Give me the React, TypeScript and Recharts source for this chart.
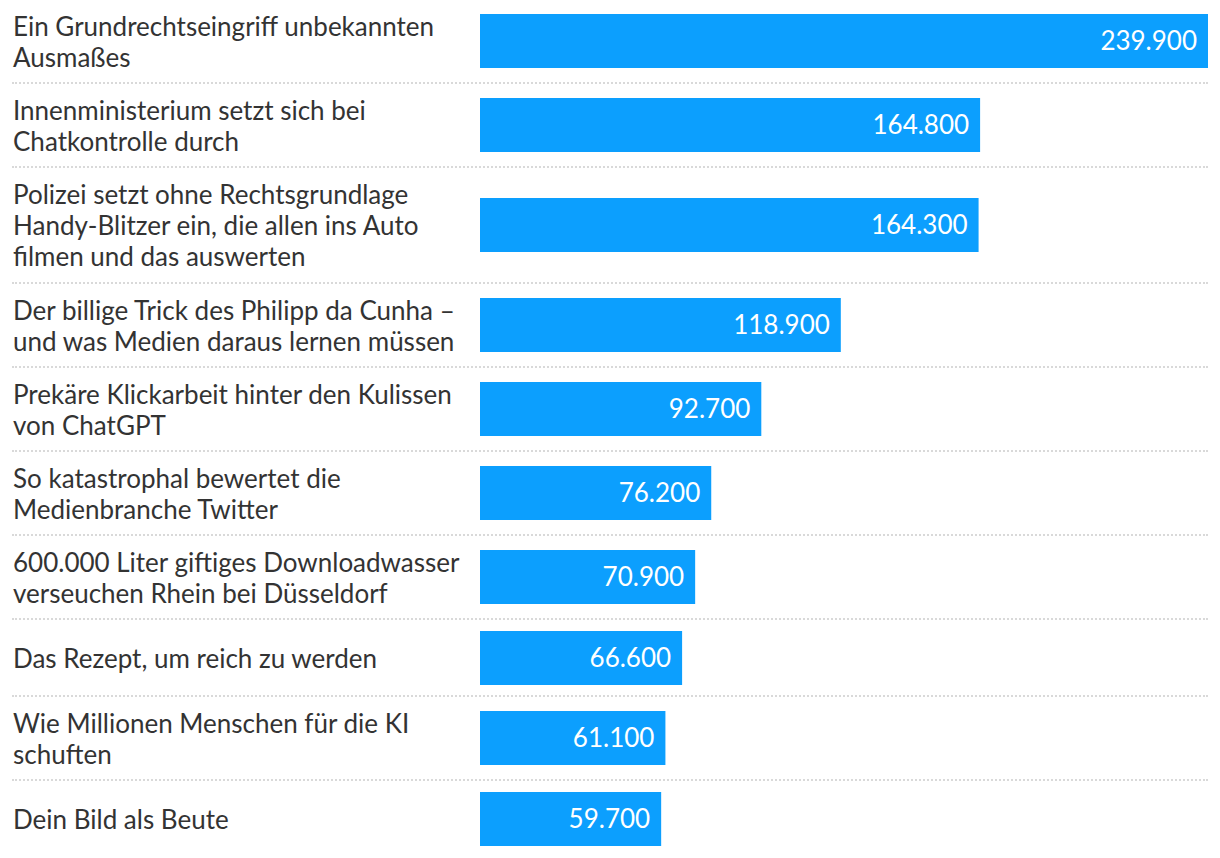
import { BarChart, Bar, XAxis, YAxis, LabelList } from 'recharts'

// article titles (line breaks as in the original layout)
const titles = [
  'Ein Grundrechtseingriff unbekannten\nAusmaßes',
  'Innenministerium setzt sich bei\nChatkontrolle durch',
  'Polizei setzt ohne Rechtsgrundlage\nHandy-Blitzer ein, die allen ins Auto\nfilmen und das auswerten',
  'Der billige Trick des Philipp da Cunha –\nund was Medien daraus lernen müssen',
  'Prekäre Klickarbeit hinter den Kulissen\nvon ChatGPT',
  'So katastrophal bewertet die\nMedienbranche Twitter',
  '600.000 Liter giftiges Downloadwasser\nverseuchen Rhein bei Düsseldorf',
  'Das Rezept, um reich zu werden',
  'Wie Millionen Menschen für die KI\nschuften',
  'Dein Bild als Beute',
]

const views = [239900, 164800, 164300, 118900, 92700, 76200, 70900, 66600, 61100, 59700]

const BAR_COLOR = '#0c9ffe'
const TEXT_COLOR = '#333333'
const FONT = 'Lato, sans-serif'
const FONT_SIZE = 26
const LINE_HEIGHT = 31
const AXIS_WIDTH = 468
const CHART_WIDTH = 1196
const maxValue = Math.max(...views)

const formatNumber = (v: number) =>
  String(v).replace(/\B(?=(\d{3})+(?!\d))/g, '.')

function TitleTick(props: any) {
  const { x, y, payload } = props
  const lines: string[] = String(payload.value).split('\n')
  const left = x - AXIS_WIDTH + 1
  const y0 = y - ((lines.length - 1) * LINE_HEIGHT) / 2
  return (
    <text
      x={left}
      y={y0}
      fill={TEXT_COLOR}
      fontSize={FONT_SIZE}
      fontFamily={FONT}
      textAnchor="start"
      dominantBaseline="central"
    >
      {lines.map((line, i) => (
        <tspan key={i} x={left} dy={i === 0 ? 0 : LINE_HEIGHT}>
          {line}
        </tspan>
      ))}
    </text>
  )
}

function rowHeight(title: string) {
  const n = title.split('\n').length
  if (n === 1) return 75
  if (n === 2) return 82
  return 114
}

function Row({ title, value, last }: { title: string; value: number; last: boolean }) {
  const h = rowHeight(title)
  const data = [{ title, value }]
  return (
    <div
      style={{
        marginLeft: 12,
        width: CHART_WIDTH,
        height: h,
        borderBottom: last ? 'none' : '2px dotted #d9d9d9',
      }}
    >
      <BarChart
        width={CHART_WIDTH}
        height={h}
        data={data}
        layout="vertical"
        margin={{ top: 0, right: 0, bottom: 0, left: 0 }}
      >
        <XAxis type="number" domain={[0, maxValue]} hide />
        <YAxis
          type="category"
          dataKey="title"
          width={AXIS_WIDTH}
          axisLine={false}
          tickLine={false}
          tickSize={0}
          tickMargin={0}
          tick={<TitleTick />}
          interval={0}
        />
        <Bar dataKey="value" fill={BAR_COLOR} barSize={54} isAnimationActive={false}>
          <LabelList
            dataKey="value"
            position="insideRight"
            offset={11}
            fill="#ffffff"
            fontSize={FONT_SIZE}
            fontFamily={FONT}
            formatter={(v: any) => formatNumber(Number(v))}
          />
        </Bar>
      </BarChart>
    </div>
  )
}

export default function App() {
  return (
    <div
      style={{
        position: 'absolute',
        top: 0,
        left: 0,
        width: 1220,
        background: '#ffffff',
        fontFamily: FONT,
      }}
    >
      {titles.map((t, i) => (
        <Row key={i} title={t} value={views[i]} last={i === titles.length - 1} />
      ))}
    </div>
  )
}
